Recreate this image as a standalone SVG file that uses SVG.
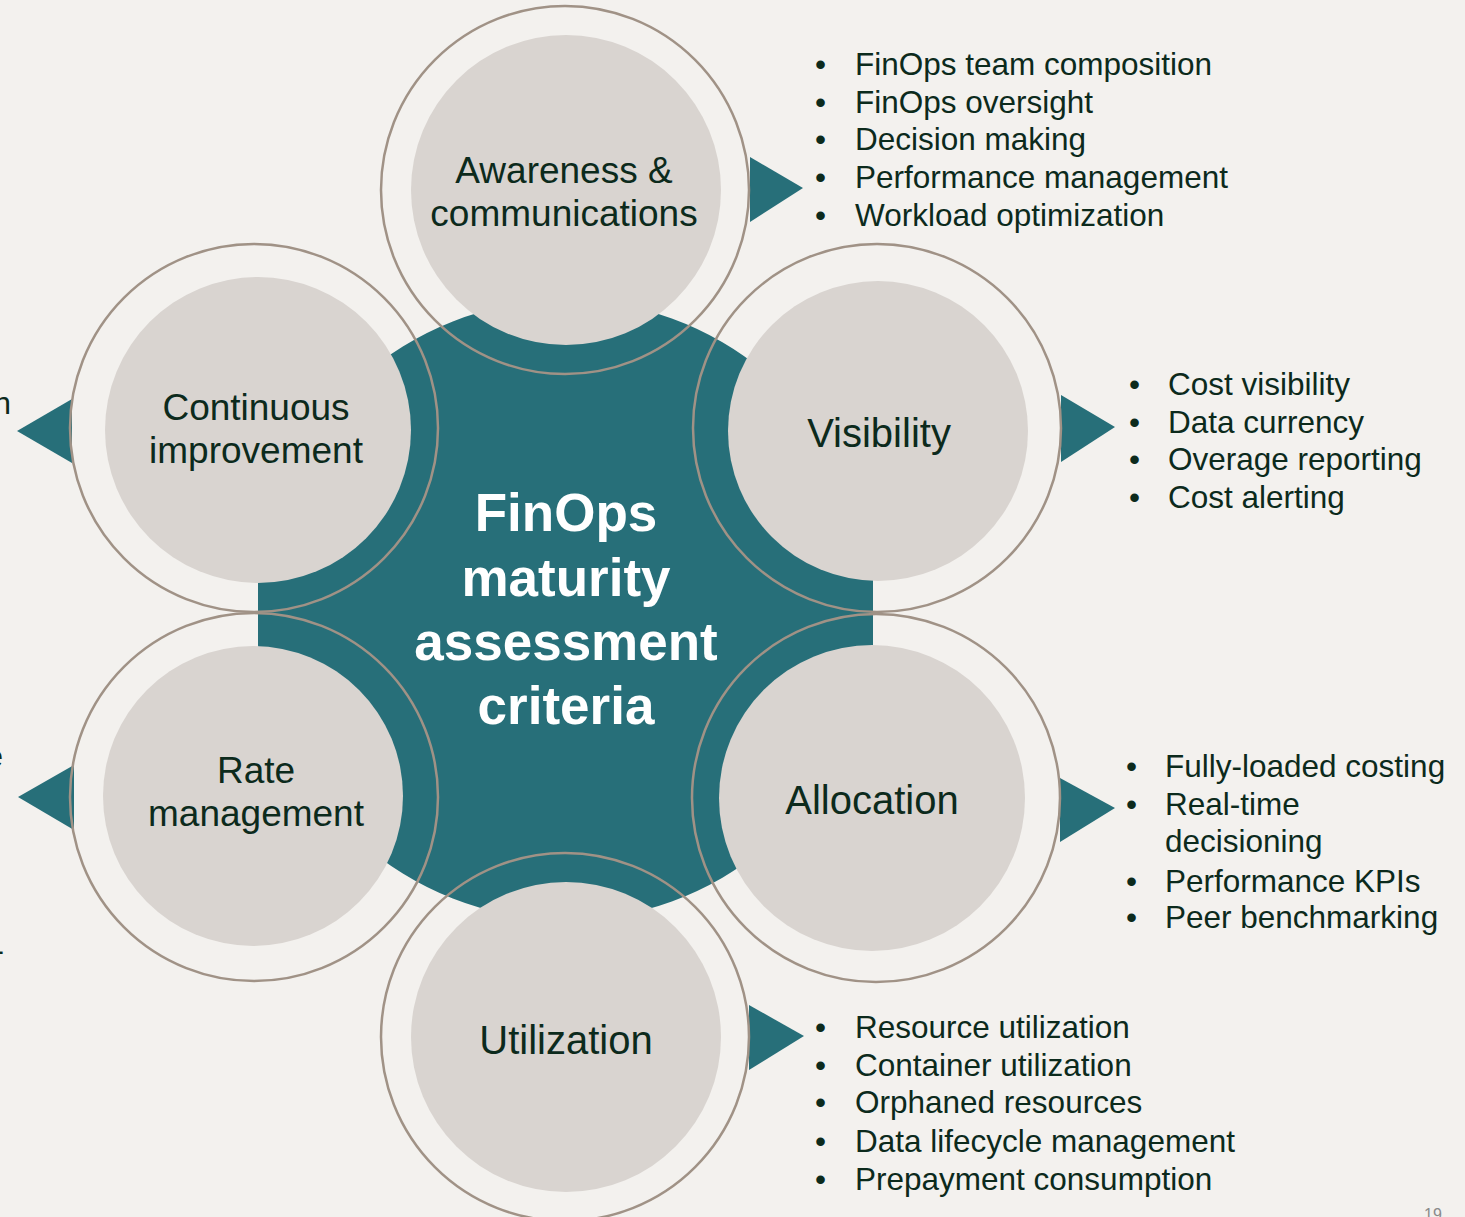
<svg xmlns="http://www.w3.org/2000/svg" width="1465" height="1217" viewBox="0 0 1465 1217">
<style>
.disk{fill:#d9d4d0}
.ring{fill:none;stroke:#a09286;stroke-width:2.5}
.lbl{font-family:"Liberation Sans",Arial,sans-serif;font-size:37px;fill:#0c2a1c;text-anchor:middle}
.big{font-size:40px}
.li{font-family:"Liberation Sans",Arial,sans-serif;font-size:31.5px;fill:#0c2a1c}
.ctr{font-family:"Liberation Sans",Arial,sans-serif;font-size:53px;font-weight:bold;fill:#ffffff;text-anchor:middle}
.tri{fill:#276f79}
</style>
<rect width="1465" height="1217" fill="#f3f1ee"/>
<g id="center">
<path d="M 258 574.8 A 310 310 0 0 1 873 567 L 873 653 A 310 310 0 0 1 258 645.2 Z" fill="#276f79"/>
<text class="ctr" x="566" y="531">FinOps</text>
<text class="ctr" x="566" y="596">maturity</text>
<text class="ctr" x="566" y="660">assessment</text>
<text class="ctr" x="566" y="724">criteria</text>
</g>
<g id="connectors">
<polygon class="tri" points="750,157 803,188 750,222"/>
<polygon class="tri" points="1061,395 1115,427 1061,462"/>
<polygon class="tri" points="1060,778 1115,808 1060,842"/>
<polygon class="tri" points="749,1005 804,1036 749,1070"/>
<polygon class="tri" points="72,399 17,431 72,463"/>
<polygon class="tri" points="74,765 18,797 74,830"/>
</g>
<g id="awareness">
<circle class="disk" cx="566" cy="190" r="155"/>
<circle class="ring" cx="565" cy="190" r="184"/>
<text class="lbl" x="564" y="183">Awareness &amp;</text>
<text class="lbl" x="564" y="226">communications</text>
</g>
<g id="visibility">
<circle class="disk" cx="878" cy="431" r="150"/>
<circle class="ring" cx="877" cy="428" r="184"/>
<text class="lbl big" x="879" y="447">Visibility</text>
</g>
<g id="allocation">
<circle class="disk" cx="872" cy="798" r="153"/>
<circle class="ring" cx="876" cy="798" r="184"/>
<text class="lbl big" x="872" y="814">Allocation</text>
</g>
<g id="utilization">
<circle class="disk" cx="566" cy="1037" r="155"/>
<circle class="ring" cx="565" cy="1037" r="184"/>
<text class="lbl big" x="566" y="1054">Utilization</text>
</g>
<g id="rate-management">
<circle class="disk" cx="253" cy="796" r="150"/>
<circle class="ring" cx="254" cy="797" r="184"/>
<text class="lbl" x="256" y="783">Rate</text>
<text class="lbl" x="256" y="826">management</text>
</g>
<g id="continuous-improvement">
<circle class="disk" cx="258" cy="430" r="153"/>
<circle class="ring" cx="254" cy="428" r="184"/>
<text class="lbl" x="256" y="420">Continuous</text>
<text class="lbl" x="256" y="463">improvement</text>
</g>
<g id="awareness-list">
<text class="li" x="815" y="75">•</text><text class="li" x="855" y="75">FinOps team composition</text>
<text class="li" x="815" y="112.7">•</text><text class="li" x="855" y="112.7">FinOps oversight</text>
<text class="li" x="815" y="150.4">•</text><text class="li" x="855" y="150.4">Decision making</text>
<text class="li" x="815" y="188.1">•</text><text class="li" x="855" y="188.1">Performance management</text>
<text class="li" x="815" y="225.8">•</text><text class="li" x="855" y="225.8">Workload optimization</text>
</g>
<g id="visibility-list">
<text class="li" x="1129" y="395">•</text><text class="li" x="1168" y="395">Cost visibility</text>
<text class="li" x="1129" y="432.7">•</text><text class="li" x="1168" y="432.7">Data currency</text>
<text class="li" x="1129" y="470.4">•</text><text class="li" x="1168" y="470.4">Overage reporting</text>
<text class="li" x="1129" y="508.1">•</text><text class="li" x="1168" y="508.1">Cost alerting</text>
</g>
<g id="allocation-list">
<text class="li" x="1126" y="777.3">•</text><text class="li" x="1165" y="777.3">Fully-loaded costing</text>
<text class="li" x="1126" y="815">•</text><text class="li" x="1165" y="815">Real-time</text>
<text class="li" x="1165" y="851.7">decisioning</text>
<text class="li" x="1126" y="891.7">•</text><text class="li" x="1165" y="891.7">Performance KPIs</text>
<text class="li" x="1126" y="928.3">•</text><text class="li" x="1165" y="928.3">Peer benchmarking</text>
</g>
<g id="utilization-list">
<text class="li" x="815" y="1038">•</text><text class="li" x="855" y="1038">Resource utilization</text>
<text class="li" x="815" y="1075.5">•</text><text class="li" x="855" y="1075.5">Container utilization</text>
<text class="li" x="815" y="1113">•</text><text class="li" x="855" y="1113">Orphaned resources</text>
<text class="li" x="815" y="1151.5">•</text><text class="li" x="855" y="1151.5">Data lifecycle management</text>
<text class="li" x="815" y="1189.5">•</text><text class="li" x="855" y="1189.5">Prepayment consumption</text>
</g>
<g id="edge-fragments">
<text class="li" x="11" y="414" text-anchor="end">n</text>
<text class="li" x="3" y="767" text-anchor="end">e</text>
<text class="li" x="4" y="961" text-anchor="end">-</text>
</g>
<text x="1433" y="1220" font-family="Liberation Sans, Arial, sans-serif" font-size="16" fill="#8a8a8a" text-anchor="middle">19</text>
</svg>
